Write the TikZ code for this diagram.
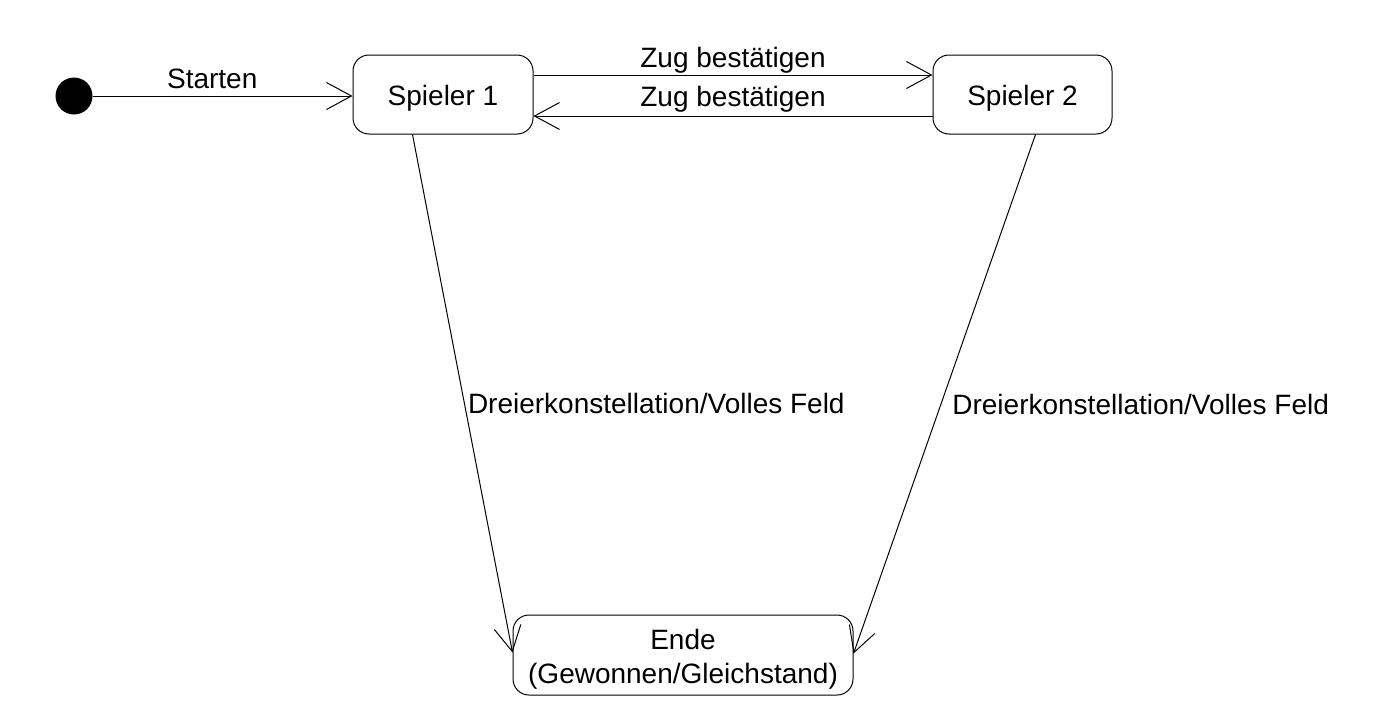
\documentclass[tikz,border=0pt]{standalone}
\usepackage{fontspec}
\setmainfont{Liberation Sans}
\usetikzlibrary{arrows.meta}
\begin{document}
\begin{tikzpicture}[x=1pt,y=-1pt,
  every node/.style={font=\fontsize{28}{34}\selectfont},
  statebox/.style={draw, line width=1pt, rounded corners=16pt, inner sep=0pt},
  trans/.style={line width=1pt, -{Straight Barb[length=25pt,width=27pt,line width=1pt]}},
  lbl/.style={inner sep=3pt}]
\useasboundingbox (0,0) rectangle (1389,726);
\fill[white] (0,0) rectangle (1389,726);
\node[circle, fill=black, minimum size=37pt, inner sep=0pt] (init) at (74,96) {};
\node[statebox, minimum width=180pt, minimum height=79pt, text height=24pt, text depth=3pt] (s1) at (443,94.5) {Spieler 1};
\node[statebox, minimum width=179pt, minimum height=79pt, text height=24pt, text depth=3pt] (s2) at (1022.5,94.5) {Spieler 2};
\node[statebox, minimum width=340pt, minimum height=80pt, align=center, text height=60pt, text depth=4pt] (e) at (683,655) {Ende\\(Gewonnen/Gleichstand)};
\draw[trans] (init) -- node[lbl, pos=0.46, above, yshift=4pt] {Starten} (init -| s1.west);
\draw[trans] ([yshift=19.5pt]s1.east) -- node[lbl, above, yshift=-2pt] {Zug bestätigen} ([yshift=19.5pt]s2.west);
\draw[trans] ([yshift=-21.5pt]s2.west) -- node[lbl, above] {Zug bestätigen} ([yshift=-21.5pt]s1.east);
\draw[trans] ([xshift=60pt]s1.south west) -- node[lbl, pos=0.52, anchor=west] {Dreierkonstellation/Volles Feld} ([yshift=-38pt]e.north west);
\draw[trans] ([xshift=-77pt]s2.south east) -- node[lbl, pos=0.52, anchor=west, xshift=8pt] {Dreierkonstellation/Volles Feld} ([yshift=-39pt]e.north east);
\end{tikzpicture}
\end{document}
